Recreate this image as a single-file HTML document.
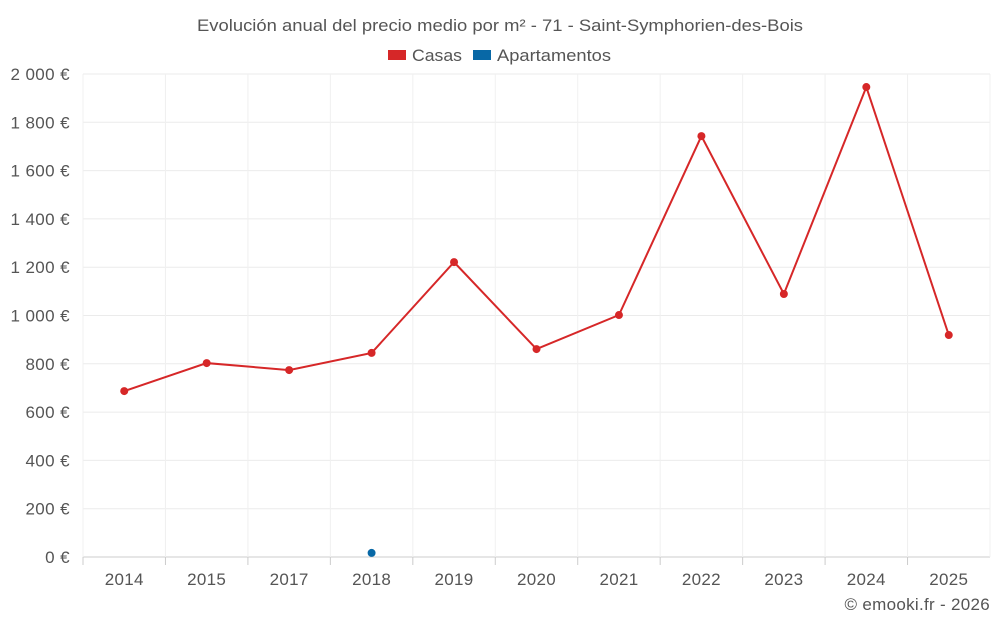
<!DOCTYPE html>
<html><head><meta charset="utf-8"><style>
html,body{margin:0;padding:0;background:#fff;}
svg{display:block;font-family:"Liberation Sans",sans-serif;}
</style></head><body>
<svg id="chart" width="1000" height="625" viewBox="0 0 1000 625">
<text x="197" y="31" textLength="606" lengthAdjust="spacingAndGlyphs" font-size="17" fill="#555">Evolución anual del precio medio por m² - 71 - Saint-Symphorien-des-Bois</text>
<g>
<g><rect x="388" y="50" width="18" height="10" fill="#d62728"/><text x="412" y="61" font-size="17" textLength="50" lengthAdjust="spacingAndGlyphs" fill="#555">Casas</text></g>
<g><rect x="473" y="50" width="18" height="10" fill="#0868a6"/><text x="497" y="61" font-size="17" textLength="114" lengthAdjust="spacingAndGlyphs" fill="#555">Apartamentos</text></g>
</g>
<g id="grid"></g>
<g id="yaxis"></g>
<g id="xaxis"></g>
<g id="series"></g>
<text x="990" y="610" text-anchor="end" font-size="17" letter-spacing="0.3" fill="#555">© emooki.fr - 2026</text>
</svg>
<script>
const categories=["2014","2015","2017","2018","2019","2020","2021","2022","2023","2024","2025"];
const casas=[687,803,774,845,1221,861,1002,1743,1089,1946,919];
const apartamentos=[null,null,null,17,null,null,null,null,null,null,null];
const yTicks=[0,200,400,600,800,1000,1200,1400,1600,1800,2000];
const yTickLabels=["0 €","200 €","400 €","600 €","800 €","1 000 €","1 200 €","1 400 €","1 600 €","1 800 €","2 000 €"];
const NS="http://www.w3.org/2000/svg";
const L=83,R=990,T=74,B=557,yMax=2000;
const bw=(R-L)/categories.length;
const x=i=>L+bw*(i+0.5);
const y=v=>B-(v/yMax)*(B-T);
function mk(tag,attrs,parent){const e=document.createElementNS(NS,tag);for(const k in attrs)e.setAttribute(k,attrs[k]);parent.appendChild(e);return e;}
const grid=document.getElementById('grid'),ya=document.getElementById('yaxis'),xa=document.getElementById('xaxis'),se=document.getElementById('series');
yTicks.forEach((t,i)=>{
 const g=mk('line',{x1:L,x2:R,y1:y(t),y2:y(t),stroke:t===0?'#ccc':'#ebebeb','stroke-width':1},grid);
 
 
 const tx=mk('text',{x:70,y:y(t)+6,'text-anchor':'end','font-size':17,'letter-spacing':0.4,fill:'#555'},ya);
 tx.textContent=yTickLabels[i];
 
 
});
for(let i=0;i<=categories.length;i++){
 const xx=L+bw*i;
 const g=mk('line',{x1:xx,x2:xx,y1:T,y2:B,stroke:'#f0f0f0','stroke-width':1},grid);
 
 
}
categories.forEach((c,i)=>{
 const xx=L+bw*i;
 const tk=mk('line',{x1:xx,x2:xx,y1:B,y2:B+8,stroke:'#ccc'},xa);
 
 
 const tx=mk('text',{x:x(i),y:585,'text-anchor':'middle','font-size':17,'letter-spacing':0.3,fill:'#555'},xa);
 tx.textContent=c;
 
 
});
let d='';casas.forEach((v,i)=>{if(v!=null)d+=(d?'L':'M')+x(i)+' '+y(v);});
const line=mk('path',{d:d,fill:'none',stroke:'#d62728','stroke-width':2},se);


casas.forEach((v,i)=>{if(v==null)return;
 const p=mk('circle',{cx:x(i),cy:y(v),r:4,fill:'#d62728'},se);
 
 
});
apartamentos.forEach((v,i)=>{if(v==null)return;
 const p=mk('circle',{cx:x(i),cy:y(v),r:4,fill:'#0868a6'},se);
 
 
});
</script>
</body></html>
